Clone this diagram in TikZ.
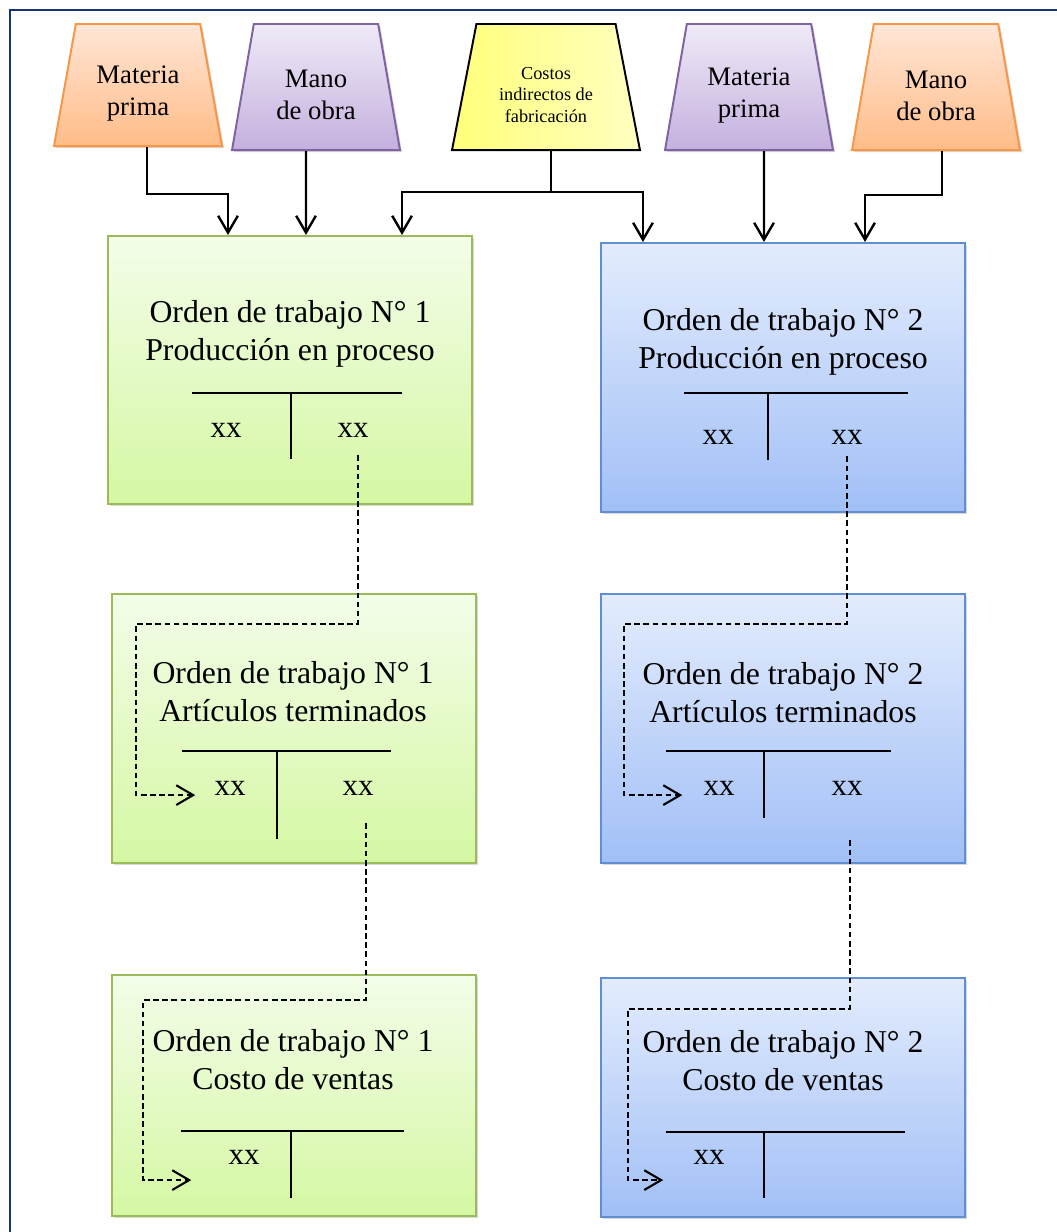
\documentclass[tikz,border=0pt]{standalone}
\usepackage{fontspec}
\setmainfont{Liberation Serif}
\usetikzlibrary{shapes.geometric,arrows.meta,shadows}

\definecolor{naranjaborde}{HTML}{F79646}
\definecolor{naranjaarriba}{HTML}{FFE6D6}
\definecolor{naranjaabajo}{HTML}{FFBC88}
\definecolor{moradoborde}{HTML}{8064A2}
\definecolor{moradoarriba}{HTML}{EFEAF7}
\definecolor{moradoabajo}{HTML}{C4B0DE}
\definecolor{amarillofuerte}{HTML}{FFFF7A}
\definecolor{amarillosuave}{HTML}{FFFFC0}
\definecolor{verdeborde}{HTML}{9BBB59}
\definecolor{verdearriba}{HTML}{F3FDE9}
\definecolor{verdeabajo}{HTML}{D5F7A3}
\definecolor{azulborde}{HTML}{5F8FD0}
\definecolor{azularriba}{HTML}{E3ECFD}
\definecolor{azulabajo}{HTML}{A1BFF6}
\definecolor{marco}{HTML}{17327A}

\tikzset{
  sombra/.style={drop shadow={shadow xshift=1.5pt,shadow yshift=-1.5pt,opacity=0.3}},
  insumo/.style={trapezium,trapezium angle=76.6,trapezium stretches=true,
    minimum width=4.2cm,minimum height=3.15cm,inner sep=0pt,line width=1.4pt},
  rotulo/.style={align=center,inner sep=0pt,font=\fontsize{19}{22.5}\selectfont},
  naranja/.style={draw=naranjaborde,top color=naranjaarriba,bottom color=naranjaabajo,sombra},
  morado/.style={draw=moradoborde,top color=moradoarriba,bottom color=moradoabajo,sombra},
  amarillo/.style={draw=black,left color=amarillofuerte,right color=amarillosuave},
  caja/.style={rectangle,minimum width=9.1cm,line width=1.4pt,sombra},
  verde/.style={caja,draw=verdeborde,top color=verdearriba,bottom color=verdeabajo},
  azul/.style={caja,draw=azulborde,top color=azularriba,bottom color=azulabajo},
  titulo/.style={align=center,inner sep=0pt,font=\fontsize{22.6}{27}\selectfont},
  monto/.style={inner sep=0pt,font=\fontsize{22}{26}\selectfont},
  cuenta/.style={line width=1.4pt},
  flecha/.style={line width=1.7pt,-{Straight Barb[length=12pt,width=14pt]}},
  flechad/.style={line width=1.2pt,dash pattern=on 4pt off 2.5pt,-{Straight Barb[length=12pt,width=14pt,line width=1.5pt]}}
}

\begin{document}
\begin{tikzpicture}[x=0.025cm,y=-0.025cm]
\useasboundingbox (0,0) rectangle (1057,1232);
\draw[marco,line width=1.4pt] (10,1232) -- (10,10) -- (1057,10);

% elementos del costo
\node[insumo,naranja,minimum height=3.05cm] (mp1) at (138,85) {\phantom{M}};
\node[insumo,morado] (mo1) at (316,87) {\phantom{M}};
\node[insumo,amarillo,minimum width=4.7cm] (cif) at (546,87) {\phantom{M}};
\node[insumo,morado] (mp2) at (749,87) {\phantom{M}};
\node[insumo,naranja] (mo2) at (936,87) {\phantom{M}};
\node[rotulo] (mp1t) at ([yshift=-0.22cm]mp1.center) {Materia\\prima};
\node[rotulo] (mo1t) at ([yshift=-0.2cm]mo1.center) {Mano\\de obra};
\node[rotulo,font=\fontsize{13}{15.3}\selectfont] (cift) at ([yshift=-0.19cm]cif.center) {Costos\\indirectos de\\fabricación};
\node[rotulo] (mp2t) at ([yshift=-0.22cm]mp2.center) {Materia\\prima};
\node[rotulo] (mo2t) at ([yshift=-0.22cm]mo2.center) {Mano\\de obra};

% orden de trabajo 1
\node[verde,minimum height=6.7cm] (pp1) at (290,370) {};
\node[verde,minimum height=6.725cm] (at1) at (294,728.5) {};
\node[verde,minimum height=6.025cm] (cv1) at (294,1095.5) {};
\node[titulo] (tpp1) at (290,334) {Orden de trabajo N° 1\\Producción en proceso};
\node[titulo] (tat1) at (293,692) {Orden de trabajo N° 1\\Artículos terminados};
\node[titulo] (tcv1) at (293,1060) {Orden de trabajo N° 1\\Costo de ventas};
\draw[cuenta] (192,393) -- (402,393) (291,393) -- (291,459);
\draw[cuenta] (182,751) -- (391,751) (277,751) -- (277,839);
\draw[cuenta] (181,1131) -- (404,1131) (291,1131) -- (291,1198);
\node[monto] (pp1d) at (226,430) {xx};
\node[monto] (pp1h) at (353,430) {xx};
\node[monto] (at1d) at (230,788) {xx};
\node[monto] (at1h) at (358,788) {xx};
\node[monto] (cv1d) at (244,1157) {xx};

% orden de trabajo 2
\node[azul,minimum height=6.725cm] (pp2) at (783,377.5) {};
\node[azul,minimum height=6.725cm] (at2) at (783,728.5) {};
\node[azul,minimum height=5.975cm] (cv2) at (783,1097.5) {};
\node[titulo] (tpp2) at (783,342) {Orden de trabajo N° 2\\Producción en proceso};
\node[titulo] (tat2) at (783,693) {Orden de trabajo N° 2\\Artículos terminados};
\node[titulo] (tcv2) at (783,1061) {Orden de trabajo N° 2\\Costo de ventas};
\draw[cuenta] (684,393) -- (908,393) (768,393) -- (768,460);
\draw[cuenta] (666,751) -- (891,751) (764,751) -- (764,818);
\draw[cuenta] (666,1132) -- (905,1132) (764,1132) -- (764,1198);
\node[monto] (pp2d) at (718,437) {xx};
\node[monto] (pp2h) at (847,437) {xx};
\node[monto] (at2d) at (719,788) {xx};
\node[monto] (at2h) at (847,788) {xx};
\node[monto] (cv2d) at (709,1157) {xx};

% cargos a produccion en proceso
\draw[flecha] ([xshift=0.225cm]mp1.south) -- ++(0,47) -| ([xshift=-1.55cm]pp1.north);
\draw[flecha] ([xshift=-0.25cm]mo1.south) -- ([xshift=0.4cm]pp1.north);
\draw[line width=1.3pt] ([xshift=0.125cm]cif.south) -- ++(0,41) coordinate (nudo);
\draw[flecha] (nudo) -| ([xshift=2.8cm]pp1.north);
\draw[flecha] (nudo) -| ([xshift=-3.5cm]pp2.north);
\draw[flecha] ([xshift=0.375cm]mp2.south) -- ([xshift=-0.475cm]pp2.north);
\draw[flecha] ([xshift=0.15cm]mo2.south) -- ++(0,44) -| ([xshift=2.05cm]pp2.north);

% traspasos
\draw[flechad] ([xshift=0.125cm,yshift=-0.45cm]pp1h.south) |- (136,624) |- ([xshift=-0.475cm]at1d.base west);
\draw[flechad] ([xshift=0.2cm,yshift=-0.7cm]at1h.south) |- (143,1000) |- ([xshift=-0.925cm,yshift=-0.4cm]cv1d.base west);
\draw[flechad] ([yshift=-0.3cm]pp2h.south) |- (624,624) |- ([xshift=-0.525cm]at2d.base west);
\draw[flechad] ([xshift=0.075cm,yshift=-1.125cm]at2h.south) |- (628,1009) |- ([xshift=-0.75cm,yshift=-0.4cm]cv2d.base west);
\end{tikzpicture}
\end{document}
